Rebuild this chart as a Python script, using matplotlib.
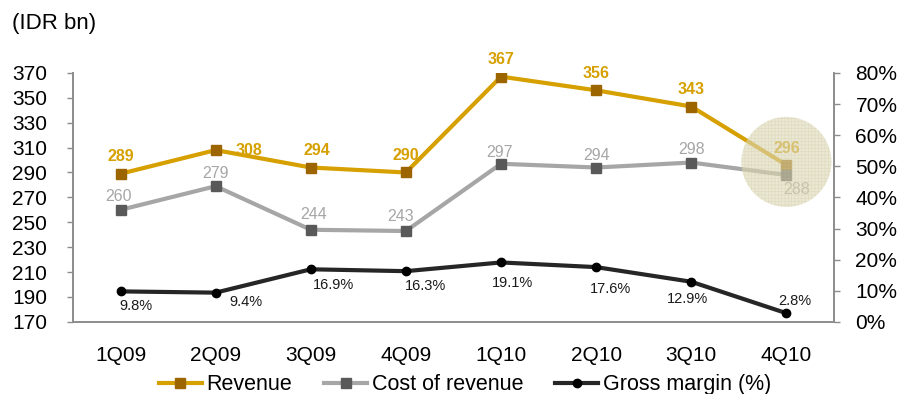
import matplotlib
matplotlib.use("Agg")
import matplotlib.pyplot as plt
import numpy as np

plt.rcParams['font.family'] = ['Liberation Sans', 'DejaVu Sans']
plt.rcParams['hatch.linewidth'] = 0.4

quarters = ['1Q09', '2Q09', '3Q09', '4Q09', '1Q10', '2Q10', '3Q10', '4Q10']
revenue = [289, 308, 294, 290, 367, 356, 343, 296]
cost_of_revenue = [260, 279, 244, 243, 297, 294, 298, 288]
gross_margin = [9.8, 9.4, 16.9, 16.3, 19.1, 17.6, 12.9, 2.8]

# label offsets in pixels (dx, dy)
rev_offsets = [(0, 17), (33, 0), (6, 17), (0, 17), (0, 17), (0, 17), (0, 17), (0, 17)]
cost_offsets = [(-2, 13), (0, 13), (3, 15), (-5, 15), (-2, 11), (0, 12), (0, 13), (10, -15)]
gm_offsets = [(15, -15), (30, -9), (23, -16), (20, -15), (11, -21), (14, -22), (-4, -17), (8, 12)]

GOLD = '#D6A000'
GOLD_DARK = '#9C6500'
GREY = '#A6A6A6'
GREY_DARK = '#595959'
SPINE = '#8C8C8C'

fig = plt.figure(figsize=(9.01, 3.94), dpi=100)
ax = fig.add_axes([0.081, 0.183, 0.8446, 0.632])
ax2 = ax.twinx()

x = np.arange(len(quarters))
px = 72 / 100  # pixels -> points

l1, = ax.plot(x, revenue, color=GOLD, lw=3, marker='s', ms=6.5,
              mfc=GOLD_DARK, mec=GOLD_DARK, label='Revenue', zorder=3)
l2, = ax.plot(x, cost_of_revenue, color=GREY, lw=3, marker='s', ms=6.5,
              mfc=GREY_DARK, mec=GREY_DARK, label='Cost of revenue', zorder=3)
l3, = ax2.plot(x, gross_margin, color='#262626', lw=3, marker='o', ms=6,
               mfc='black', mec='black', label='Gross margin (%)', zorder=3)

for xi, v, (dx, dy) in zip(x, revenue, rev_offsets):
    ax.annotate(str(v), (xi, v), xytext=(dx * px, dy * px), textcoords='offset points',
                ha='center', va='center', fontsize=11.5, fontweight='bold', color=GOLD)
for xi, v, (dx, dy) in zip(x, cost_of_revenue, cost_offsets):
    ax.annotate(str(v), (xi, v), xytext=(dx * px, dy * px), textcoords='offset points',
                ha='center', va='center', fontsize=11.5, color=GREY)
for xi, v, (dx, dy) in zip(x, gross_margin, gm_offsets):
    ax2.annotate(f'{v:.1f}%', (xi, v), xytext=(dx * px, dy * px), textcoords='offset points',
                 ha='center', va='center', fontsize=10.5, color='#1a1a1a')

# highlight on the last quarter: pale disc plus a fine grid
ax2.scatter([x[-1]], [298.5], s=4200, transform=ax.transData, marker='o',
            facecolor='#DCD7B6', edgecolor='none', alpha=0.6, zorder=10, clip_on=False)
ax2.scatter([x[-1]], [298.5], s=4200, transform=ax.transData, marker='o',
            facecolor='none', edgecolor='#CBC396', linewidth=0,
            hatch='+++++', alpha=0.35, zorder=11, clip_on=False)

ax.set_xlim(-0.5, len(quarters) - 0.5)
ax.set_ylim(170, 370)
ax.set_yticks(np.arange(170, 371, 20))
ax2.set_ylim(0, 80)
ax2.set_yticks(np.arange(0, 81, 10))
ax2.set_yticklabels([f'{t}%' for t in range(0, 81, 10)])
ax.set_xticks(x)
ax.set_xticklabels(quarters)

for a in (ax, ax2):
    a.spines['top'].set_visible(False)
    for s in ('left', 'right', 'bottom'):
        a.spines[s].set_color(SPINE)
        a.spines[s].set_linewidth(1.2)
ax.tick_params(axis='y', length=4.5, width=1, color=SPINE, pad=14, labelsize=15)
ax2.tick_params(axis='y', length=4.5, width=1, color=SPINE, pad=11, labelsize=15)
ax.tick_params(axis='x', length=0, pad=17, labelsize=15)

fig.text(0.013, 0.94, '(IDR bn)', fontsize=16, ha='left', va='center')

fig.legend(handles=[l1, l2, l3], loc='center', bbox_to_anchor=(0.516, 0.024),
           ncol=3, frameon=False, fontsize=15.5, handlelength=2.0,
           handletextpad=0.2, columnspacing=1.5, borderaxespad=0)

fig.savefig('out.png', dpi=100)
